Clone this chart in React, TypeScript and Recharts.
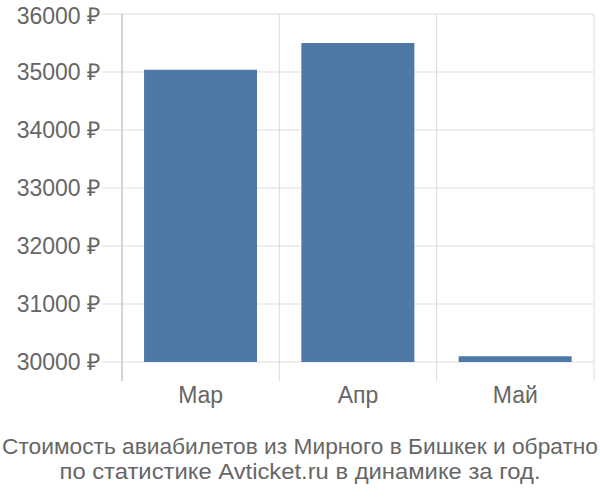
import React from "react";
import { BarChart, Bar, XAxis, YAxis, CartesianGrid } from "recharts";

const months = ["Мар", "Апр", "Май"];
const prices = [35040, 35500, 30100];
const yTicks = [30000, 31000, 32000, 33000, 34000, 35000, 36000];
const titleLines = [
  "Стоимость авиабилетов из Мирного в Бишкек и обратно",
  "по статистике Avticket.ru в динамике за год.",
];

const data = months.map((month, i) => ({ month, price: prices[i] }));

const FONT = "'Liberation Sans', Arial, sans-serif";
const TEXT = "#666666";
const Y_MIN = 30000;
const Y_MAX = 36000;
const PAD_BOTTOM = 19;

const App: React.FC = () => {
  // vertical grid at category boundaries
  const bandLines = ({ offset }: any) =>
    months.map((_, i) => offset.left + ((i + 1) * offset.width) / months.length);

  // horizontal grid only at the y ticks (same mapping as the padded y axis)
  const tickLines = ({ offset }: any) =>
    yTicks.map((v) => offset.top + ((Y_MAX - v) / (Y_MAX - Y_MIN)) * (offset.height - PAD_BOTTOM));

  return (
    <div style={{ position: "absolute", left: 0, top: 0, width: 600, height: 500, background: "#fff" }}>
      <BarChart
        width={600}
        height={420}
        data={data}
        margin={{ top: 14, right: 6, left: 0, bottom: 0 }}
        barCategoryGap="14%"
      >
        <CartesianGrid
          stroke="#dddddd"
          verticalCoordinatesGenerator={bandLines}
          horizontalCoordinatesGenerator={tickLines}
        />
        <XAxis
          dataKey="month"
          axisLine={false}
          tickLine={false}
          tickSize={0}
          tickMargin={6}
          height={39}
          tick={{ fill: TEXT, fontSize: 23, fontFamily: FONT }}
        />
        <YAxis
          width={122}
          domain={[Y_MIN, Y_MAX]}
          ticks={yTicks}
          padding={{ bottom: PAD_BOTTOM }}
          axisLine={{ stroke: "#aaaaaa" }}
          tickLine={{ stroke: "#dddddd" }}
          tickSize={20}
          tickMargin={2}
          tickFormatter={(v: number) => `${v} ₽`}
          tick={{ fill: TEXT, fontSize: 23, fontFamily: FONT }}
        />
        <Bar dataKey="price" fill="#4e79a7" isAnimationActive={false} />
      </BarChart>
      <svg width={600} height={80} style={{ display: "block" }}>
        {titleLines.map((line, i) => (
          <text
            key={i}
            x={300}
            y={34 + i * 25}
            textAnchor="middle"
            fill={TEXT}
            fontSize={22}
            fontFamily={FONT}
            textLength={i === 0 ? 596 : 481}
            lengthAdjust="spacingAndGlyphs"
          >
            {line}
          </text>
        ))}
      </svg>
    </div>
  );
};

export default App;
